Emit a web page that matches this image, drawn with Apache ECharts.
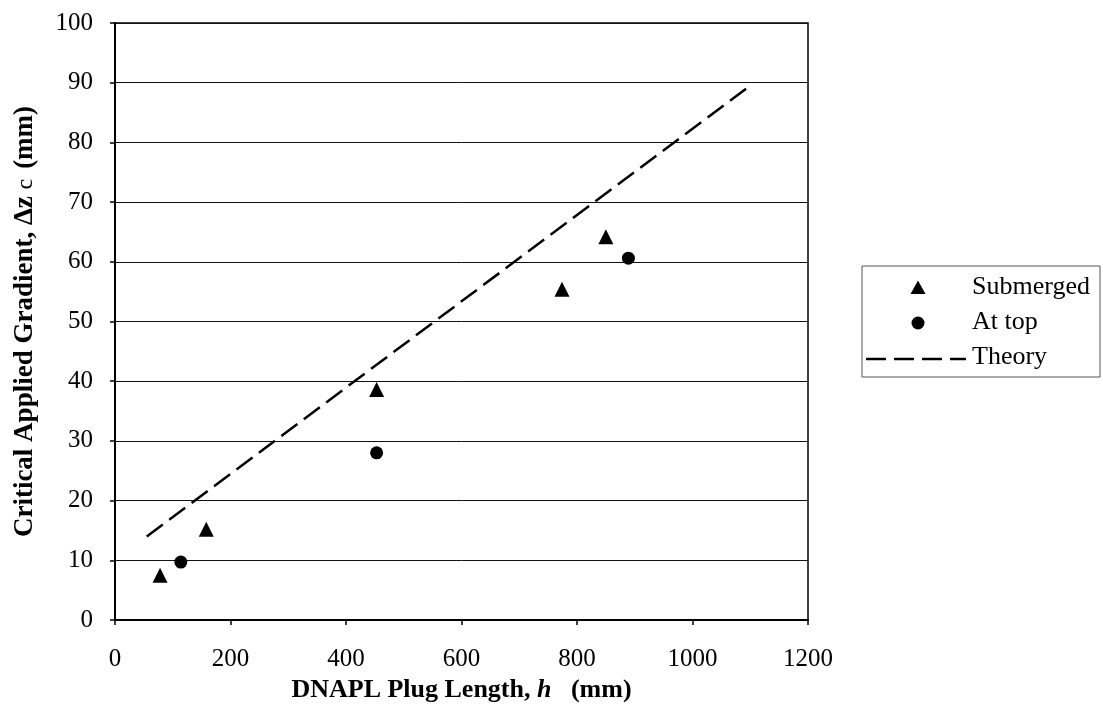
<!DOCTYPE html>
<html>
<head>
<meta charset="utf-8">
<script src="https://cdn.jsdelivr.net/npm/echarts@6/dist/echarts.min.js"></script>
<style>html,body{margin:0;padding:0;background:#fff}#c{width:1103px;height:720px}</style>
</head>
<body>
<div id="c"></div>
<script>
// Data
const submerged = [[78, 7.5], [158, 15.2], [453, 38.6], [774, 55.4], [850, 64.2]];
const atTop = [[114, 9.7], [453, 28.0], [889, 60.6]];
const theory = [[55, 14.0], [1100, 89.5]];
const seriesNames = ['Submerged', 'At top', 'Theory'];
const xTicks = {min: 0, max: 1200, interval: 200};
const yTicks = {min: 0, max: 100, interval: 10};

const FONT = '"Liberation Serif", "Times New Roman", serif';
const DASH = [20, 8];
const chart = echarts.init(document.getElementById('c'), null, {renderer: 'canvas'});

// legend drawn as graphic (box, symbols, real text)
const LX = 862, LY = 266, LW = 238, LH = 111;
const rows = [288, 323, 358];
const legendGraphic = [
  {type: 'rect', shape: {x: LX, y: LY, width: LW, height: LH}, style: {fill: '#fff', stroke: '#555', lineWidth: 1}},
  {type: 'polygon', shape: {points: [[918, rows[0] - 7.5], [925.5, rows[0] + 6], [910.5, rows[0] + 6]]}, style: {fill: '#000'}},
  {type: 'circle', shape: {cx: 918, cy: rows[1], r: 6.5}, style: {fill: '#000'}},
  {type: 'line', shape: {x1: 866, y1: rows[2] + 1, x2: 966, y2: rows[2] + 1}, style: {stroke: '#000', lineWidth: 2.5, lineDash: DASH}},
];
seriesNames.forEach((n, i) => legendGraphic.push({
  type: 'text', x: 972, y: rows[i] - 1,
  style: {text: n, font: '26px ' + FONT, fill: '#000', textVerticalAlign: 'middle', textAlign: 'left'}
}));

chart.setOption({
  backgroundColor: '#fff',
  animation: false,
  grid: {left: 115, right: 295, top: 23, bottom: 100, show: true, borderColor: '#000', borderWidth: 1.5, backgroundColor: 'transparent'},
  graphic: legendGraphic,
  xAxis: {
    type: 'value', min: xTicks.min, max: xTicks.max, interval: xTicks.interval,
    axisLine: {show: true, onZero: false, lineStyle: {color: '#000', width: 2}},
    axisTick: {show: true, inside: false, length: 5, lineStyle: {color: '#000', width: 1.5}},
    axisLabel: {fontFamily: FONT, fontSize: 25, color: '#000', margin: 27, formatter: v => String(v)},
    splitLine: {show: false},
    name: '{b|DNAPL Plug Length, }{i|h}{b|   (mm)}',
    nameLocation: 'middle', nameGap: 56,
    nameTextStyle: {rich: {
      b: {fontFamily: FONT, fontSize: 26, fontWeight: 'bold', color: '#000'},
      i: {fontFamily: FONT, fontSize: 26, fontWeight: 'bold', fontStyle: 'italic', color: '#000'}
    }}
  },
  yAxis: {
    type: 'value', min: yTicks.min, max: yTicks.max, interval: yTicks.interval,
    axisLine: {show: true, onZero: false, lineStyle: {color: '#000', width: 2}},
    axisTick: {show: true, inside: false, length: 5, lineStyle: {color: '#000', width: 1.5}},
    axisLabel: {fontFamily: FONT, fontSize: 25, color: '#000', margin: 22, formatter: v => String(v)},
    splitLine: {show: true, lineStyle: {color: '#111', width: 1}},
    name: '{b|Critical Applied Gradient, Δz}  {c|c}   {b|(mm)}',
    nameLocation: 'middle', nameGap: 76, nameRotate: 90,
    nameTextStyle: {rich: {
      b: {fontFamily: FONT, fontSize: 27, fontWeight: 'bold', color: '#000'},
      c: {fontFamily: FONT, fontSize: 24, fontWeight: 'normal', color: '#000'}
    }}
  },
  series: [
    {name: seriesNames[0], type: 'scatter', data: submerged, symbol: 'triangle', symbolSize: 15,
     itemStyle: {color: '#000', opacity: 1}},
    {name: seriesNames[1], type: 'scatter', data: atTop, symbol: 'circle', symbolSize: 13,
     itemStyle: {color: '#000', opacity: 1}},
    {name: seriesNames[2], type: 'line', data: theory, symbol: 'none', showSymbol: false,
     lineStyle: {color: '#000', width: 2.5, type: DASH}, itemStyle: {color: '#000'}}
  ]
});
</script>
</body>
</html>
